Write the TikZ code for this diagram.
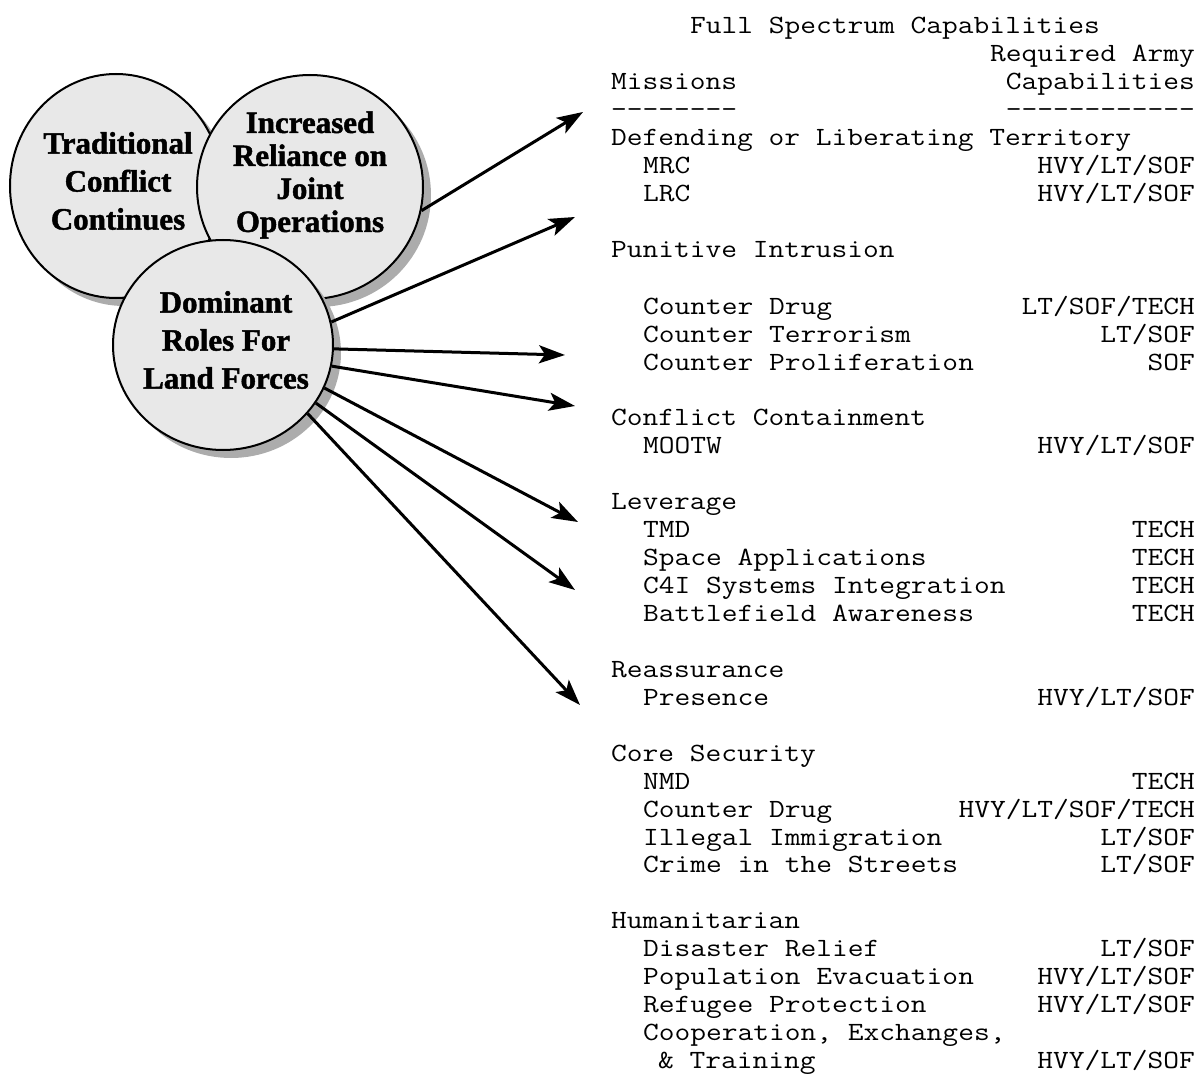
\documentclass[tikz,border=0pt]{standalone}
\usepackage{fontspec}
\setmainfont{Liberation Serif}[BoldFeatures={FakeBold=1.5}]
\setmonofont{Latin Modern Mono}[FakeStretch=1.163]
\usetikzlibrary{shapes.geometric,shadows,arrows.meta}

\begin{document}
\begin{tikzpicture}[x=1pt,y=-1pt,
  role/.style={draw, ellipse, line width=2pt, fill=gray!18,
    drop shadow={shadow xshift=8pt, shadow yshift=-8pt, fill=gray!65, opacity=1}},
  roletext/.style={align=center, inner sep=0pt, font=\fontsize{31}{38}\selectfont\bfseries},
  mission/.style={anchor=base west, inner sep=0pt, font=\fontsize{26.3}{28}\selectfont\ttfamily},
  capab/.style={anchor=base east, inner sep=0pt, font=\fontsize{26.3}{28}\selectfont\ttfamily},
  arr/.style={line width=3pt, -{Stealth[length=26pt,width=18pt,inset=6pt]}}]
\useasboundingbox (0,0) rectangle (1199,1075);

\node[role, minimum width=212pt, minimum height=224pt] (trad) at (116,186) {};
\node[role, minimum width=226pt, minimum height=224pt] (incr) at (310,187) {};
\node[role, minimum width=220pt, minimum height=210pt] (dom) at (223,345) {};

\node[roletext] (tradtext) at (118,181) {Traditional\\Conflict\\Continues};
\node[roletext, font=\fontsize{31}{33}\selectfont\bfseries] (incrtext) at (310,175) {Increased\\Reliance on\\Joint\\Operations};
\node[roletext] (domtext) at (226,340) {Dominant\\Roles For\\Land Forces};

\node[mission] (title) at (690,34) {Full Spectrum Capabilities};
\node[capab] (reqhead) at (1195,62) {Required Army};
\node[mission] (mishead) at (611,90) {Missions};
\node[capab] (caphead) at (1195,90) {Capabilities};
\node[mission] (misrule) at (611,118) {--------};
\node[capab] (caprule) at (1195,118) {------------};

\node[mission] (defend) at (611,146) {Defending or Liberating Territory};
\node[mission] (mrc) at (643,174) {MRC};
\node[capab] (mrccap) at (1195,174) {HVY/LT/SOF};
\node[mission] (lrc) at (643,202) {LRC};
\node[capab] (lrccap) at (1195,202) {HVY/LT/SOF};

\node[mission] (punitive) at (611,258) {Punitive Intrusion};
\node[mission] (drug) at (643,314) {Counter Drug};
\node[capab] (drugcap) at (1195,314) {LT/SOF/TECH};
\node[mission] (terror) at (643,342) {Counter Terrorism};
\node[capab] (terrorcap) at (1195,342) {LT/SOF};
\node[mission] (prolif) at (643,370) {Counter Proliferation};
\node[capab] (prolifcap) at (1195,370) {SOF};

\node[mission] (contain) at (611,425) {Conflict Containment};
\node[mission] (mootw) at (643,453) {MOOTW};
\node[capab] (mootwcap) at (1195,453) {HVY/LT/SOF};

\node[mission] (leverage) at (611,509) {Leverage};
\node[mission] (tmd) at (643,537) {TMD};
\node[capab] (tmdcap) at (1195,537) {TECH};
\node[mission] (space) at (643,565) {Space Applications};
\node[capab] (spacecap) at (1195,565) {TECH};
\node[mission] (cfouri) at (643,593) {C4I Systems Integration};
\node[capab] (cfouricap) at (1195,593) {TECH};
\node[mission] (aware) at (643,621) {Battlefield Awareness};
\node[capab] (awarecap) at (1195,621) {TECH};

\node[mission] (reassure) at (611,677) {Reassurance};
\node[mission] (presence) at (643,705) {Presence};
\node[capab] (presencecap) at (1195,705) {HVY/LT/SOF};

\node[mission] (core) at (611,761) {Core Security};
\node[mission] (nmd) at (643,789) {NMD};
\node[capab] (nmdcap) at (1195,789) {TECH};
\node[mission] (coredrug) at (643,817) {Counter Drug};
\node[capab] (coredrugcap) at (1195,817) {HVY/LT/SOF/TECH};
\node[mission] (immig) at (643,845) {Illegal Immigration};
\node[capab] (immigcap) at (1195,845) {LT/SOF};
\node[mission] (crime) at (643,872) {Crime in the Streets};
\node[capab] (crimecap) at (1195,872) {LT/SOF};

\node[mission] (human) at (611,928) {Humanitarian};
\node[mission] (relief) at (643,956) {Disaster Relief};
\node[capab] (reliefcap) at (1195,956) {LT/SOF};
\node[mission] (evac) at (643,984) {Population Evacuation};
\node[capab] (evaccap) at (1195,984) {HVY/LT/SOF};
\node[mission] (refugee) at (643,1012) {Refugee Protection};
\node[capab] (refugeecap) at (1195,1012) {HVY/LT/SOF};
\node[mission] (coop) at (643,1040) {Cooperation, Exchanges,};
\node[mission] (train) at (658,1068) {\& Training};
\node[capab] (traincap) at (1195,1068) {HVY/LT/SOF};

\coordinate (tip1) at (583,112);
\coordinate (tip2) at (575,217);
\coordinate (tip3) at (565,355);
\coordinate (tip4) at (575,406);
\coordinate (tip5) at (578,522);
\coordinate (tip6) at (575,590);
\coordinate (tip7) at (580,705);

\draw[arr] (incr.-12) -- (tip1);
\draw[arr] (dom.12) -- (tip2);
\draw[arr] (dom.-2) -- (tip3);
\draw[arr] (dom.-11) -- (tip4);
\draw[arr] (dom.-23) -- (tip5);
\draw[arr] (dom.-32) -- (tip6);
\draw[arr] (dom.-39) -- (tip7);
\end{tikzpicture}
\end{document}
